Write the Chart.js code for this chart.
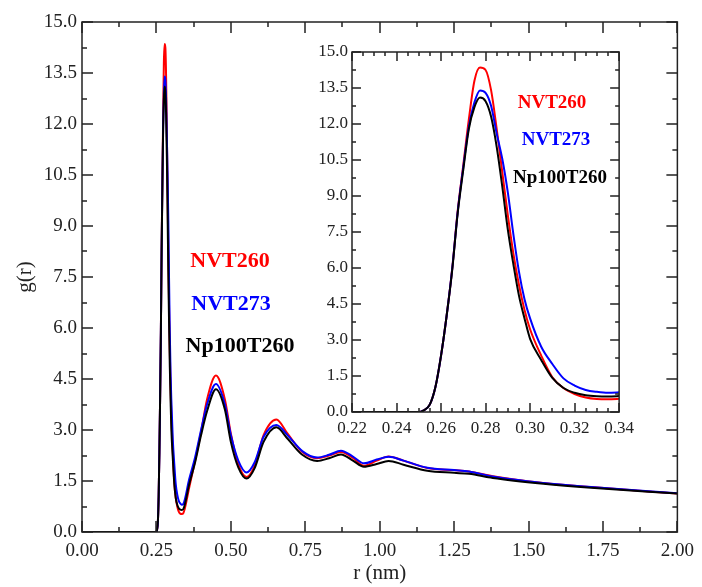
<!DOCTYPE html>
<html>
<head>
<meta charset="utf-8">
<script src="https://cdn.jsdelivr.net/npm/chart.js@4/dist/chart.umd.min.js"></script>
<style>
  html, body { margin: 0; padding: 0; background: #fff; }
  #wrap { position: relative; width: 702px; height: 587px; }
  #main { position: absolute; left: 0; top: 0; }
  #inset { position: absolute; left: 300px; top: 30px; }
</style>
</head>
<body>
<div id="wrap">
  <canvas id="main" width="702" height="587"></canvas>
  <canvas id="inset" width="340" height="410"></canvas>
</div>
<script>
// r in nm
const rVals = [0, 0.22, 0.25, 0.252, 0.255, 0.2575,
  0.26, 0.2625, 0.265, 0.2675, 0.27, 0.2725, 0.275, 0.2775, 0.28, 0.2825,
  0.285, 0.2875, 0.29, 0.2925, 0.295, 0.2975, 0.30, 0.305, 0.31, 0.315,
  0.32, 0.325, 0.33, 0.335, 0.34,
  0.36, 0.38, 0.40, 0.42, 0.45,
  0.48, 0.50, 0.525, 0.553, 0.58,
  0.61, 0.653, 0.69, 0.74, 0.79,
  0.83, 0.87, 0.91, 0.947, 0.99,
  1.03, 1.08, 1.16, 1.25, 1.30,
  1.38, 1.55, 1.71, 2.00];

const gNVT260 = [0, 0, 0, 0.06, 0.32, 1.05,
  2.35, 4.0, 5.95, 8.4, 10.3, 12.2, 13.8, 14.35, 14.25, 13.4,
  11.8, 10.0, 8.2, 6.6, 5.3, 4.25, 3.45, 2.35, 1.45, 1.0,
  0.75, 0.6, 0.54, 0.53, 0.55,
  1.3, 2.1, 2.95, 3.9, 4.6,
  3.9, 2.9, 2.0, 1.62, 1.95,
  2.85, 3.31, 2.9, 2.35, 2.17,
  2.25, 2.35, 2.18, 1.95, 2.1,
  2.22, 2.1, 1.88, 1.82, 1.78,
  1.64, 1.44, 1.32, 1.13];

const gNVT273 = [0, 0, 0, 0.06, 0.32, 1.05,
  2.35, 4.0, 5.95, 8.35, 10.2, 11.9, 12.9, 13.4, 13.3, 12.75,
  11.6, 10.55, 9.15, 7.4, 5.85, 4.7, 3.9, 2.72, 2.0, 1.4,
  1.1, 0.92, 0.84, 0.8, 0.82,
  1.55, 2.2, 3.0, 3.75, 4.35,
  3.75, 2.85, 2.1, 1.75, 2.05,
  2.8, 3.15, 2.85, 2.38, 2.19,
  2.27, 2.39, 2.22, 2.02, 2.13,
  2.21, 2.1, 1.89, 1.82, 1.78,
  1.63, 1.44, 1.32, 1.14];

const gNp100T260 = [0, 0, 0, 0.06, 0.32, 1.05,
  2.35, 4.0, 5.9, 8.3, 10.1, 11.8, 12.7, 13.1, 12.95, 12.3,
  11.05, 9.4, 7.6, 6.15, 4.85, 3.9, 3.05, 2.17, 1.42, 1.0,
  0.8, 0.7, 0.66, 0.65, 0.67,
  1.4, 2.05, 2.85, 3.55, 4.2,
  3.6, 2.65, 1.9, 1.57, 1.88,
  2.65, 3.08, 2.75, 2.27, 2.09,
  2.17, 2.28, 2.1, 1.92, 2.0,
  2.09, 1.98, 1.8, 1.74, 1.71,
  1.59, 1.42, 1.30, 1.13];

const seriesNames = ['NVT260', 'NVT273', 'Np100T260'];
const seriesColors = ['#ff0000', '#0000ff', '#000000'];
const seriesData = [gNVT260, gNVT273, gNp100T260];

const SERIF = '"Liberation Serif", "Times New Roman", serif';

function isMajor(v, step) {
  const q = v / step;
  return Math.abs(q - Math.round(q)) < 1e-6;
}

function makeDatasets(width) {
  return seriesNames.map((name, i) => ({
    label: name,
    data: rVals.map((r, k) => ({ x: r, y: seriesData[i][k] })),
    borderColor: seriesColors[i],
    borderWidth: width,
    pointRadius: 0,
    fill: false,
    cubicInterpolationMode: 'monotone',
    order: 2 - i
  }));
}

// inward tick marks on all four sides + frame, and the series labels
function frameTicks(f) {
  return {
    id: 'frameTicks',
    afterDraw(chart) {
      const ctx = chart.ctx;
      const a = chart.chartArea;
      const sx = chart.scales.x;
      const sy = chart.scales.y;
      ctx.save();
      ctx.fillStyle = '#222';
      for (let k = 0; k < 200; k++) {
        const v = sx.min + k * f.xStep;
        if (v > sx.max + 1e-9) break;
        const px = Math.round(sx.getPixelForValue(v));
        const len = isMajor(v - sx.min, f.xStepMajor) ? f.bigTick : f.smallTick;
        ctx.fillRect(px - 0.75, a.bottom - len, 1.5, len);
        ctx.fillRect(px - 0.75, a.top, 1.5, len);
      }
      for (let k = 0; k < 200; k++) {
        const v = sy.min + k * 0.75;
        if (v > sy.max + 1e-9) break;
        const py = Math.round(sy.getPixelForValue(v));
        const len = isMajor(v, 1.5) ? f.bigTick : f.smallTick;
        ctx.fillRect(a.left, py - 0.75, len, 1.5);
        ctx.fillRect(a.right - len, py - 0.75, len, 1.5);
      }
      ctx.strokeStyle = '#222';
      ctx.lineWidth = 1.5;
      ctx.strokeRect(a.left, a.top, a.right - a.left, a.bottom - a.top);

      ctx.font = 'bold ' + f.labelSize + 'px ' + SERIF;
      ctx.textAlign = 'center';
      ctx.textBaseline = 'alphabetic';
      f.labelPos.forEach((p, i) => {
        ctx.fillStyle = seriesColors[i];
        ctx.fillText(seriesNames[i], p[0], p[1]);
      });
      ctx.restore();
    }
  };
}

function makeOptions(cfg) {
  return {
    responsive: false,
    animation: false,
    layout: { padding: cfg.padding },
    plugins: {
      legend: { display: false },
      tooltip: { enabled: false }
    },
    scales: {
      x: {
        type: 'linear',
        min: cfg.xMin, max: cfg.xMax,
        grid: { display: false, drawTicks: false },
        border: { display: false },
        afterFit: s => { s.height = cfg.xHeight; },
        ticks: {
          stepSize: cfg.xStep,
          autoSkip: false,
          maxRotation: 0,
          padding: cfg.xPad,
          color: '#222',
          font: { family: SERIF, size: cfg.tickSize },
          callback: v => isMajor(v, cfg.xStepMajor) ? v.toFixed(2) : ''
        },
        title: cfg.xTitle
      },
      y: {
        min: 0, max: 15,
        grid: { display: false, drawTicks: false },
        border: { display: false },
        afterFit: s => { s.width = cfg.yWidth; },
        ticks: {
          stepSize: 0.75,
          autoSkip: false,
          padding: cfg.yPad,
          color: '#222',
          font: { family: SERIF, size: cfg.tickSize },
          callback: v => isMajor(v, 1.5) ? v.toFixed(1) : ''
        },
        title: cfg.yTitle
      }
    }
  };
}

new Chart(document.getElementById('main'), {
  type: 'line',
  data: { datasets: makeDatasets(2) },
  options: makeOptions({
    padding: { left: 0, top: 22, right: 19, bottom: 0 },
    xMin: 0, xMax: 2, xStep: 0.125, xStepMajor: 0.25,
    xHeight: 55, yWidth: 82,
    xPad: 8, yPad: 5, tickSize: 19,
    xTitle: { display: true, text: 'r (nm)', color: '#222',
      font: { family: SERIF, size: 21 }, padding: { top: 0, bottom: 1 } },
    yTitle: { display: true, text: 'g(r)', color: '#222',
      font: { family: SERIF, size: 21 }, padding: { top: 13, bottom: 0 } }
  }),
  plugins: [frameTicks({ xStep: 0.125, xStepMajor: 0.25, bigTick: 11, smallTick: 5, labelSize: 22,
    labelPos: [[230, 267], [231, 310], [240, 352]] })]
});

// inset: zoom on the first peak
new Chart(document.getElementById('inset'), {
  type: 'line',
  data: { datasets: makeDatasets(2) },
  options: makeOptions({
    padding: { left: 0, top: 22, right: 17, bottom: 0 },
    xMin: 0.22, xMax: 0.34, xStep: 0.005, xStepMajor: 0.02,
    xHeight: 28, yWidth: 52,
    xPad: 6, yPad: 4, tickSize: 17,
    xTitle: { display: false },
    yTitle: { display: false }
  }),
  plugins: [frameTicks({ xStep: 0.005, xStepMajor: 0.02, bigTick: 9, smallTick: 4, labelSize: 19,
    labelPos: [[252, 78], [256, 115], [260, 153]] })]
});
</script>
</body>
</html>
